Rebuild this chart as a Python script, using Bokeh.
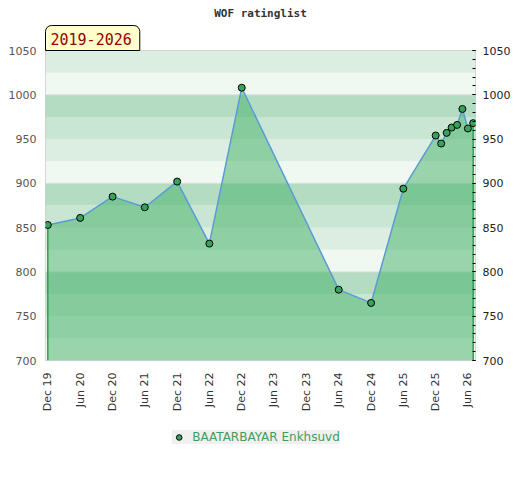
import math
import pandas as pd
from bokeh.plotting import figure
from bokeh.layouts import column
from bokeh.models import (Range1d, LinearAxis, FixedTicker, DatetimeTickFormatter,
                          Legend, LegendItem, Title, SingleIntervalTicker, ColumnDataSource)
from bokeh.embed import file_html
from bokeh.resources import INLINE

# ---- data ----
title_text = "WOF ratinglist"
period_text = "2019-2026"
player = "BAATARBAYAR Enkhsuvd"
dates = ["2019-12-01", "2020-06-01", "2020-12-01", "2021-06-01", "2021-12-01",
         "2022-06-01", "2022-12-01", "2024-06-01", "2024-12-01", "2025-06-01",
         "2025-12-01", "2026-01-01", "2026-02-01", "2026-03-01", "2026-04-01",
         "2026-05-01", "2026-06-01", "2026-07-01"]
ratings = [853, 861, 885, 873, 902, 832, 1008, 780, 765, 894,
           954, 945, 957, 963, 966, 984, 962, 968]
tick_dates = ["2019-12-01", "2020-06-01", "2020-12-01", "2021-06-01", "2021-12-01",
              "2022-06-01", "2022-12-01", "2023-06-01", "2023-12-01", "2024-06-01",
              "2024-12-01", "2025-06-01", "2025-12-01", "2026-06-01"]
y_min, y_max = 700, 1050

x = pd.to_datetime(dates)
x_start = pd.Timestamp("2019-11-18")
x_end = pd.Timestamp("2026-07-14")
src = ColumnDataSource(data=dict(x=x, rating=ratings))

p = figure(frame_width=430, frame_height=310, x_axis_type="datetime",
           x_range=Range1d(x_start, x_end), y_range=Range1d(y_min, y_max),
           output_backend="svg", toolbar_location=None, title=None,
           min_border_left=37, min_border_right=37,
           min_border_top=0, min_border_bottom=0)
p.margin = (0, 0, 0, 5)
p.outline_line_color = "#cccccc"
p.background_fill_color = "white"
p.border_fill_color = "white"
p.xgrid.visible = False
p.ygrid.visible = False

# period box (closest to the frame) and main title above it
p.add_layout(Title(text=period_text, align="left", text_font="DejaVu Sans Mono",
                   text_font_size="15px", text_font_style="normal",
                   text_color="#990000", background_fill_color="#ffffcc",
                   border_line_color="black", border_line_width=1,
                   padding=dict(left=5, right=8, top=7, bottom=6), standoff=0,
                   border_radius=dict(top_left=6, top_right=6, bottom_left=0, bottom_right=0)),
             "above")
p.add_layout(Title(text=title_text, align="center", text_font="DejaVu Sans Mono",
                   text_font_style="bold", text_font_size="11px", text_color="#333333",
                   standoff=8), "above")

# background bands (25-unit stripes, 4-colour cycle per hundred)
band_cols = ["#f0f8f2", "#dbeee1", "#c8e6d2", "#b3dcc2"]
b_bottom = list(range(y_min, y_max, 25))
b_cols = [band_cols[(b % 100) // 25] for b in b_bottom]
p.quad(left=[x_start] * len(b_bottom), right=[x_end] * len(b_bottom),
       bottom=b_bottom, top=[b + 25 for b in b_bottom],
       fill_color=b_cols, line_color=None)
g_y = list(range(800, y_max, 100))
p.segment(x0=[x_start] * len(g_y), x1=[x_end] * len(g_y), y0=g_y, y1=g_y,
          line_color="#dcdcdc", line_width=1)

# area + line + markers
p.varea(x="x", y1=y_min, y2="rating", source=src, fill_color="#42b066", fill_alpha=0.5)
p.segment(x0=[x[0], x[-1]], x1=[x[0], x[-1]], y0=[y_min, y_min],
          y1=[ratings[0], ratings[-1]], line_color="#2e9e50", line_width=1.5)
p.line("x", "rating", source=src, line_color="#5b9bd5", line_width=1.5)
p.scatter("x", "rating", source=src, size=7, fill_color="#35a35a",
          line_color="black", line_width=1)

# x axis
p.xaxis.ticker = FixedTicker(ticks=[pd.Timestamp(d).value / 1e6 for d in tick_dates])
fmt = "%b %y"
p.xaxis.formatter = DatetimeTickFormatter(days=fmt, months=fmt, years=fmt,
                                          hours=fmt, minutes=fmt, seconds=fmt,
                                          milliseconds=fmt, microseconds=fmt,
                                          minsec=fmt, hourmin=fmt)
p.xaxis.major_label_orientation = math.pi / 2
p.xaxis.axis_line_color = None
p.xaxis.major_tick_line_color = None
p.xaxis.minor_tick_line_color = None
p.xaxis.major_tick_in = 0
p.xaxis.major_tick_out = 0
p.xaxis.minor_tick_in = 0
p.xaxis.minor_tick_out = 0
p.xaxis.major_label_standoff = 12
p.xaxis.major_label_text_font = "DejaVu Sans"
p.xaxis.major_label_text_font_size = "11px"
p.xaxis.major_label_text_color = "#333333"

# left y axis
p.yaxis.ticker = SingleIntervalTicker(interval=50)
p.yaxis.axis_line_color = None
p.yaxis.major_tick_line_color = None
p.yaxis.minor_tick_line_color = None
p.yaxis.major_tick_in = 0
p.yaxis.major_tick_out = 0
p.yaxis.minor_tick_in = 0
p.yaxis.minor_tick_out = 0
p.yaxis.major_label_standoff = 9
p.yaxis.major_label_text_font = "DejaVu Sans"
p.yaxis.major_label_text_font_size = "11px"
p.yaxis.major_label_text_color = "#555555"

# right y axis
ra = LinearAxis(ticker=SingleIntervalTicker(interval=50, num_minor_ticks=5))
ra.axis_line_color = None
ra.major_tick_in = 3
ra.major_tick_out = 0
ra.minor_tick_in = 3
ra.minor_tick_out = 0
ra.major_tick_line_color = "black"
ra.minor_tick_line_color = "black"
ra.major_label_standoff = 7
ra.major_label_text_font = "DejaVu Sans"
ra.major_label_text_font_size = "11px"
ra.major_label_text_color = "#222222"
p.add_layout(ra, "right")

# legend strip (separate small figure below the chart); its key renderer
# uses the same data, which lies outside this strip's ranges
lg = figure(width=509, height=50, output_backend="svg", toolbar_location=None,
            x_range=Range1d(0, 1), y_range=Range1d(0, 1), title=None,
            min_border=0)
lg.axis.visible = False
lg.grid.visible = False
lg.outline_line_color = None
lg.border_fill_color = "white"
lg.background_fill_color = "white"
key = lg.scatter("x", "rating", source=src, size=7, fill_color="#35a35a",
                 line_color="black", line_width=1)
leg = Legend(items=[LegendItem(label=player, renderers=[key], index=0)],
             location="top_center",
             orientation="horizontal", background_fill_color="#f0f0f0",
             background_fill_alpha=1, border_line_color=None,
             label_text_color="#3aa05a", label_text_font="DejaVu Sans",
             label_text_font_size="12px", glyph_width=14, glyph_height=14,
             label_height=14, padding=3, margin=16, label_standoff=7)
lg.add_layout(leg)

open("out.html", "w").write(file_html(column(p, lg), INLINE))
